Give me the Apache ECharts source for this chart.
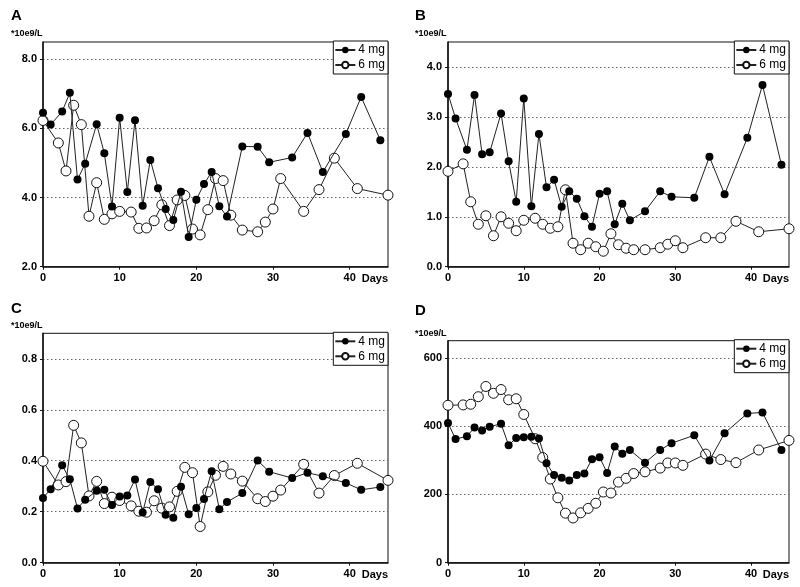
<!DOCTYPE html>
<html>
<head>
<meta charset="utf-8">
<script src="https://cdn.jsdelivr.net/npm/echarts@6/dist/echarts.min.js"></script>
<style>html,body{margin:0;padding:0;background:#fff}#c{width:800px;height:587px}</style>
</head>
<body>
<div id="c"></div>
<script>
// Sampling days
var days4 = [0,1,2.5,3.5,4.5,5.5,7,8,9,10,11,12,13,14,15,16,17,18,19,20,21,22,23,24,26,28,29.5,32.5,34.5,36.5,39.5,41.5,44];
var days6 = [0,2,3,4,5,6,7,8,9,10,11.5,12.5,13.5,14.5,15.5,16.5,17.5,18.5,19.5,20.5,21.5,22.5,23.5,24.5,26,28,29,30,31,34,36,38,41,45];

// Panel A
var a4 = [6.45,6.11,6.49,7.03,4.52,4.98,6.12,5.28,3.74,6.31,4.16,6.24,3.76,5.09,4.27,3.67,3.35,4.17,2.86,3.94,4.39,4.74,3.75,3.45,5.48,5.47,5.02,5.16,5.87,4.74,5.84,6.91,5.66];
var a6 = [6.23,5.58,4.77,6.67,6.11,3.46,4.43,3.37,3.53,3.60,3.58,3.11,3.12,3.33,3.79,3.19,3.93,4.06,3.09,2.92,3.65,4.55,4.49,3.49,3.06,3.01,3.29,3.67,4.55,3.60,4.23,5.14,4.26,4.07];
// Panel B
var b4 = [3.46,2.97,2.34,3.44,2.25,2.29,3.07,2.11,1.30,3.37,1.21,2.66,1.59,1.74,1.20,1.51,1.36,1.01,0.80,1.46,1.51,0.85,1.26,0.93,1.11,1.51,1.40,1.38,2.20,1.45,2.58,3.64,2.04];
var b6 = [1.91,2.06,1.30,0.85,1.02,0.62,1.00,0.87,0.72,0.93,0.97,0.85,0.77,0.80,1.54,0.47,0.34,0.47,0.40,0.31,0.66,0.44,0.37,0.34,0.34,0.38,0.45,0.52,0.38,0.58,0.58,0.91,0.70,0.76];
// Panel C
var c4 = [0.254,0.288,0.382,0.327,0.213,0.247,0.282,0.286,0.226,0.260,0.264,0.326,0.197,0.317,0.288,0.188,0.176,0.298,0.190,0.215,0.250,0.359,0.210,0.238,0.273,0.401,0.357,0.332,0.353,0.339,0.313,0.286,0.297];
var c6 = [0.398,0.305,0.318,0.539,0.470,0.262,0.319,0.232,0.257,0.244,0.223,0.202,0.198,0.243,0.214,0.219,0.280,0.374,0.353,0.142,0.278,0.343,0.378,0.348,0.320,0.251,0.240,0.261,0.285,0.386,0.273,0.342,0.390,0.323];
// Panel D
var d4 = [409,362,370,396,387,398,407,344,365,367,369,364,291,257,249,241,257,261,303,309,263,340,319,330,293,330,350,373,299,379,437,440,330];
var d6 = [461,462,464,486,516,496,507,477,480,434,363,308,245,190,145,131,146,159,174,207,204,236,247,261,266,277,292,292,285,318,302,293,330,358];

var panelLetters = ['A','B','C','D'];
var unitLabel = '*10e9/L';
var seriesNames = ['4 mg','6 mg'];
var xTicks = {min:0, max:45, interval:10};
var yScales = [
  {min:2, max:8.5, interval:2, dec:1},
  {min:0, max:4.5, interval:1, dec:1},
  {min:0, max:0.9, interval:0.2, dec:1},
  {min:0, max:650, interval:200, dec:0}
];
var panelData = [[a4,a6],[b4,b6],[c4,c6],[d4,d6]];

var FONT = 'Liberation Sans, Arial, Helvetica, sans-serif';
var grids = [
  {left:43, top:42, width:345, height:224.7},
  {left:448, top:42, width:341, height:224.7},
  {left:43, top:333.3, width:345, height:229.4},
  {left:448, top:340.7, width:341, height:222}
];
var letterPos = [[11,8],[415,8],[11,301],[415,303]];
var unitPos = [[11,29.5],[415,29.5],[11,321.5],[415,329.5]];

var option = {
  animation:false,
  backgroundColor:'#fff',
  title:[], grid:[], xAxis:[], yAxis:[], legend:[], series:[]
};

grids.forEach(function(g,i){
  option.grid.push({left:g.left, top:g.top, width:g.width, height:g.height, show:true, borderColor:'#111', borderWidth:1, backgroundColor:'transparent', containLabel:false});
  option.title.push({text:panelLetters[i], left:letterPos[i][0], top:letterPos[i][1], padding:0, textStyle:{fontFamily:FONT, fontSize:15, fontWeight:'bold', color:'#000'}});
  option.title.push({text:unitLabel, left:unitPos[i][0], top:unitPos[i][1], padding:0, textStyle:{fontFamily:FONT, fontSize:9, fontWeight:'bold', color:'#000'}});
  option.xAxis.push({
    type:'value', gridIndex:i, min:xTicks.min, max:xTicks.max, interval:xTicks.interval,
    name:'Days', nameLocation:'end', nameGap:0,
    nameTextStyle:{fontFamily:FONT, fontSize:11, fontWeight:'bold', color:'#000', align:'right', verticalAlign:'top', padding:[7,0,0,0]},
    axisLine:{show:true, onZero:false, lineStyle:{color:'#111', width:1.5}},
    axisTick:{show:true, length:3, lineStyle:{color:'#111', width:1}},
    axisLabel:{showMaxLabel:false, margin:6, fontFamily:FONT, fontSize:11, fontWeight:'bold', color:'#000'},
    splitLine:{show:false}
  });
  var ys = yScales[i];
  option.yAxis.push({
    type:'value', gridIndex:i, min:ys.min, max:ys.max, interval:ys.interval,
    axisLine:{show:true, onZero:false, lineStyle:{color:'#111', width:1.5}},
    axisTick:{show:true, length:3, lineStyle:{color:'#111', width:1}},
    axisLabel:{showMaxLabel:false, margin:6, fontFamily:FONT, fontSize:11, fontWeight:'bold', color:'#000',
      formatter:(function(dec){return function(v){return v.toFixed(dec);};})(ys.dec)},
    splitLine:{show:true, showMinLine:false, showMaxLine:false, lineStyle:{color:'#666', type:[1.5,2.5], width:1}}
  });
  option.legend.push({
    show:true, orient:'vertical', right:800-(g.left+g.width), top:g.top-1,
    data:seriesNames, backgroundColor:'#fff', borderColor:'#111', borderWidth:1,
    padding:[3,3,3,1], itemGap:3, itemWidth:20, itemHeight:8, selectedMode:false,
    textStyle:{fontFamily:FONT, fontSize:12, color:'#000', padding:[0,0,0,-2]}
  });
  var pd = panelData[i];
  option.series.push({
    name:seriesNames[0], type:'line', xAxisIndex:i, yAxisIndex:i,
    data:days4.map(function(d,j){return [d,pd[0][j]];}),
    symbol:'circle', symbolSize:8, z:3,
    lineStyle:{color:'#222', width:1},
    itemStyle:{color:'#000', borderColor:'#000', borderWidth:0}
  });
  option.series.push({
    name:seriesNames[1], type:'line', xAxisIndex:i, yAxisIndex:i,
    data:days6.map(function(d,j){return [d,pd[1][j]];}),
    symbol:'circle', symbolSize:10, z:2,
    lineStyle:{color:'#222', width:1},
    itemStyle:{color:'#fff', borderColor:'#111', borderWidth:1}
  });
});

var chart = echarts.init(document.getElementById('c'), null, {renderer:'canvas'});
chart.setOption(option);
</script>
</body>
</html>
